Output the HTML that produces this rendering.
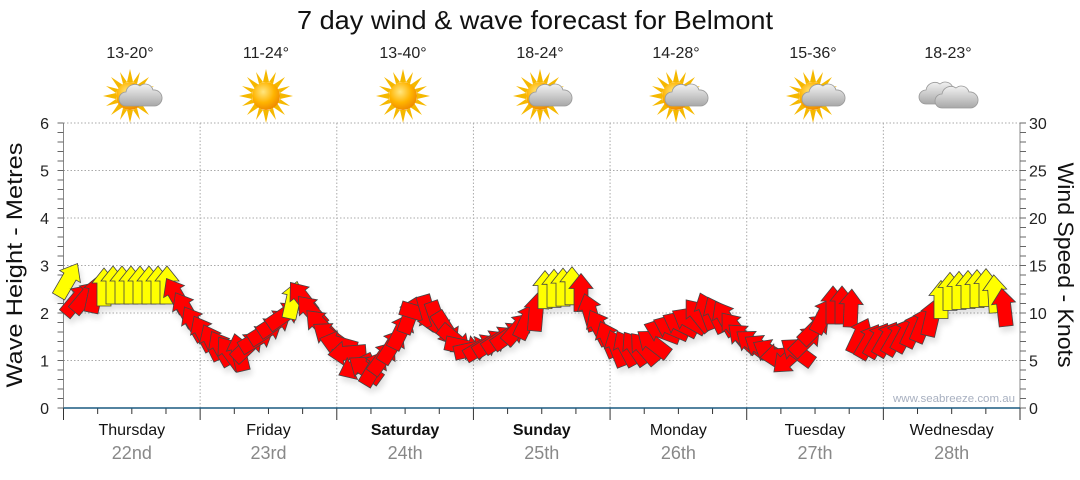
<!DOCTYPE html>
<html><head><meta charset="utf-8"><style>
body{margin:0;background:#fff;width:1080px;height:475px;overflow:hidden}
svg text{font-family:"Liberation Sans",Arial,sans-serif}
</style></head><body>
<svg id="s" width="1080" height="475" xmlns="http://www.w3.org/2000/svg">
<defs>
<radialGradient id="sun" cx="40%" cy="35%" r="65%"><stop offset="0" stop-color="#ffe680"/><stop offset="0.6" stop-color="#ffb400"/><stop offset="1" stop-color="#f08c00"/></radialGradient>
<linearGradient id="cld" x1="0" y1="0" x2="0" y2="1"><stop offset="0" stop-color="#f2f2f2"/><stop offset="1" stop-color="#a8a8a8"/></linearGradient>
<filter id="sh" x="-20%" y="-20%" width="140%" height="160%"><feGaussianBlur in="SourceAlpha" stdDeviation="3"/><feOffset dx="2" dy="5"/><feComponentTransfer><feFuncA type="linear" slope="0.12"/></feComponentTransfer><feMerge><feMergeNode/><feMergeNode in="SourceGraphic"/></feMerge></filter>
<g id="rays">
<g fill="#f5b800">
<polygon points="0,-27 3,-14 -3,-14"/><polygon points="0,27 3,14 -3,14"/><polygon points="-27,0 -14,3 -14,-3"/><polygon points="27,0 14,3 14,-3"/>
<polygon points="19,-19 11,-7 7,-11"/><polygon points="-19,-19 -11,-7 -7,-11"/><polygon points="19,19 11,7 7,11"/><polygon points="-19,19 -11,7 -7,11"/>
<polygon points="10,-24 7,-12 3,-14"/><polygon points="-10,-24 -7,-12 -3,-14"/><polygon points="10,24 7,12 3,14"/><polygon points="-10,24 -7,12 -3,14"/>
<polygon points="24,-10 12,-7 14,-3"/><polygon points="-24,-10 -12,-7 -14,-3"/><polygon points="24,10 12,7 14,3"/><polygon points="-24,10 -12,7 -14,3"/>
</g>
<circle r="14" fill="url(#sun)"/>
</g>
<g id="cloud"><path d="M-14,10 a7,7 0 0 1 0,-14 a9,9 0 0 1 14,-6 a8,8 0 0 1 13,4 a7,7 0 0 1 2,16 z" fill="url(#cld)" stroke="#999" stroke-width="0.8"/></g>
</defs>
<text x="535" y="29" font-size="26" text-anchor="middle" fill="#111" textLength="476" lengthAdjust="spacingAndGlyphs">7 day wind &amp; wave forecast for Belmont</text>
<g font-size="16" text-anchor="middle" fill="#222">
<text x="130" y="58">13-20°</text><text x="266" y="58">11-24°</text><text x="403" y="58">13-40°</text><text x="540" y="58">18-24°</text><text x="676" y="58">14-28°</text><text x="813" y="58">15-36°</text><text x="948" y="58">18-23°</text>
</g>
<g id="icons"></g>
<g id="grid" stroke="#aaa" stroke-dasharray="1.5,2" stroke-width="1"></g>
<g id="axes"></g>
<g id="arrows" filter="url(#sh)"></g>
<text x="1015" y="402" font-size="11" text-anchor="end" fill="#a8b0c0" textLength="122" lengthAdjust="spacingAndGlyphs">www.seabreeze.com.au</text>
<text transform="translate(22,265) rotate(-90)" font-size="22" text-anchor="middle" fill="#111" textLength="245" lengthAdjust="spacingAndGlyphs">Wave Height - Metres</text>
<text transform="translate(1058,265) rotate(90)" font-size="22" text-anchor="middle" fill="#111" textLength="205" lengthAdjust="spacingAndGlyphs">Wind Speed - Knots</text>
</svg>
<script>
var NS="http://www.w3.org/2000/svg";
function el(p,t,a,txt){var e=document.createElementNS(NS,t);for(var k in a)e.setAttribute(k,a[k]);if(txt!=null)e.textContent=txt;p.appendChild(e);return e;}
var L=63.5,R=1020,T=123,B=408,dw=(R-L)/7;
var ic=document.getElementById('icons');
var kinds=['pc','s','s','pc','pc','pc','c'];
var cx=[130,266,403,540,676,813,948];
kinds.forEach(function(k,i){
 if(k!='c'){el(ic,'use',{href:'#rays',x:cx[i],y:96});}
 if(k=='pc'){el(ic,'use',{href:'#cloud',x:cx[i]+10,y:96});}
 if(k=='c'){el(ic,'use',{href:'#cloud',x:cx[i]-8,y:94});el(ic,'use',{href:'#cloud',x:cx[i]+8,y:98});}
});
var g=document.getElementById('grid');
for(var m=1;m<=6;m++){var y=B-m*(B-T)/6;el(g,'line',{x1:L,x2:R,y1:y,y2:y});}
for(var d=1;d<7;d++){var x=L+d*dw;el(g,'line',{x1:x,x2:x,y1:T,y2:B});}
var ax=document.getElementById('axes');
el(ax,'line',{x1:L,x2:L,y1:T,y2:B,stroke:'#888'});
el(ax,'line',{x1:R,x2:R,y1:T,y2:B,stroke:'#888'});
for(var i=0;i<=30;i++){var y=B-i*(B-T)/30;el(ax,'line',{x1:L-6,x2:L,y1:y,y2:y,stroke:'#666'});el(ax,'line',{x1:R,x2:R+6,y1:y,y2:y,stroke:'#666'});}
for(var m=0;m<=6;m++){var y=B-m*(B-T)/6;el(ax,'text',{x:49,y:y+6,'font-size':16,'text-anchor':'end',fill:'#222'},m);}
for(var k=0;k<=30;k+=5){var y=B-k*(B-T)/30;el(ax,'text',{x:1029,y:y+6,'font-size':16,fill:'#222'},k);}
for(var q=0;q<=28;q++){var x=L+q*dw/4;el(ax,'line',{x1:x,x2:x,y1:B,y2:B+(q%4==0?12:6),stroke:'#333'});}
el(ax,'line',{x1:L,x2:R,y1:B,y2:B,stroke:'#1a5a80','stroke-width':1.5});
var days=['Thursday','Friday','Saturday','Sunday','Monday','Tuesday','Wednesday'],dates=['22nd','23rd','24th','25th','26th','27th','28th'];
days.forEach(function(n,i){var x=L+(i+0.5)*dw;
 el(ax,'text',{x:x,y:435,'font-size':16,'text-anchor':'middle',fill:'#111','font-weight':(i==2||i==3)?'bold':'normal'},n);
 el(ax,'text',{x:x,y:459,'font-size':18,'text-anchor':'middle',fill:'#888'},dates[i]);});
var K=[[68,280,30,'y'],[76,300,40,'r'],[88,296,40,'r'],[98,293,0,'r'],[106,285,0,'y'],[168,285,0,'y'],[176,295,-30,'r'],[195,325,-30,'r'],[215,345,-25,'r'],[235,355,-40,'r'],[250,345,60,'r'],[290,310,55,'r'],[296,290,-30,'y'],[304,300,-40,'r'],[325,332,-45,'r'],[345,350,-90,'r'],[358,370,-120,'r'],[375,368,40,'r'],[395,342,30,'r'],[410,315,20,'r'],[425,312,165,'r'],[440,322,160,'r'],[455,340,130,'r'],[468,350,90,'r'],[480,348,60,'r'],[510,335,55,'r'],[530,318,20,'r'],[538,310,0,'r'],[542,290,0,'y'],[578,285,0,'y'],[584,300,0,'r'],[595,322,-30,'r'],[615,348,-20,'r'],[650,348,-45,'r'],[660,332,-70,'r'],[690,320,-60,'r'],[705,310,-20,'r'],[725,318,-30,'r'],[745,340,-50,'r'],[770,352,-60,'r'],[790,360,-140,'r'],[805,342,45,'r'],[820,322,45,'r'],[830,305,0,'r'],[850,305,0,'r'],[862,342,30,'r'],[900,337,30,'r'],[930,320,20,'r'],[936,312,0,'r'],[944,292,0,'y'],[992,287,0,'y'],[1000,305,-10,'r'],[1012,312,0,'r']];
function interp(x){for(var i=0;i<K.length-1;i++){if(x<=K[i+1][0]){var a=K[i],b=K[i+1],t=(x-a[0])/(b[0]-a[0]);return [a[1]+t*(b[1]-a[1]),a[2]+t*(b[2]-a[2]),t<0.5?a[3]:b[3]];}}var z=K[K.length-1];return [z[1],z[2],z[3]];}
var ar=document.getElementById('arrows');
el(ar,'polyline',{points:K.map(function(k){return k[0]+','+k[1]}).join(' '),fill:'none',stroke:'#999','stroke-width':1});
var pts="0,-19 12,-4 7,-4 7,19 -7,19 -7,-4 -12,-4";
for(var x=68;x<=1012;x+=9){var v=interp(x);
 el(ar,'polygon',{points:pts,transform:'translate('+x.toFixed(1)+','+v[0].toFixed(1)+') rotate('+v[1].toFixed(1)+')',fill:v[2]=='y'?'#ffff00':'#ff0000',stroke:'#444','stroke-width':0.8});}
</script>
</body></html>
